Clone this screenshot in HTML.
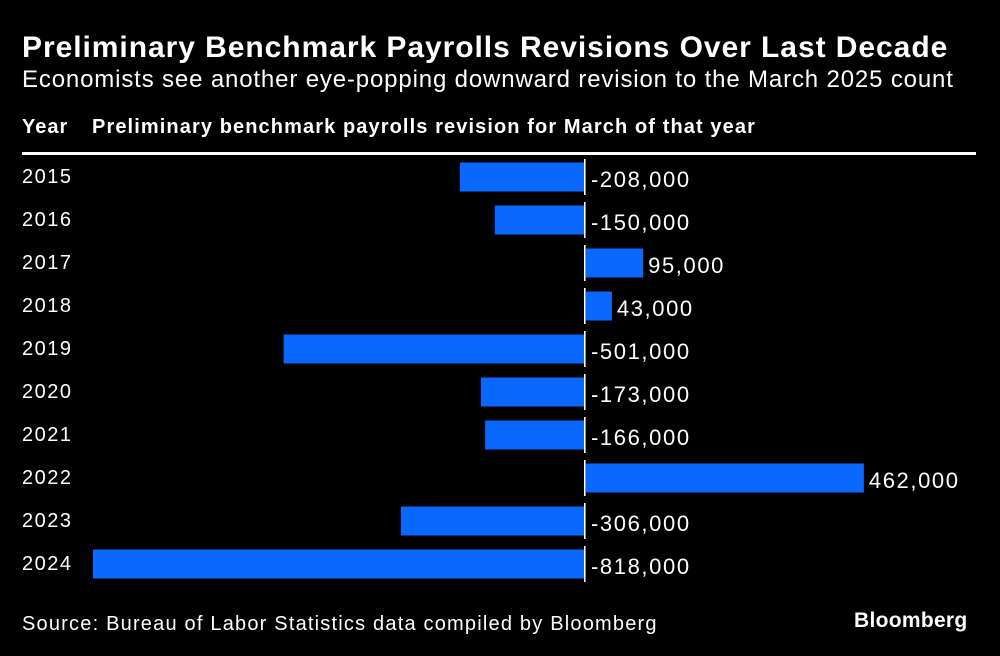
<!DOCTYPE html>
<html><head><meta charset="utf-8"><style>
body{margin:0;background:#000;width:1000px;height:656px;overflow:hidden;font-family:"Liberation Sans",sans-serif;color:#fff;position:relative}
.t{position:absolute;white-space:nowrap}
</style></head><body>
<div class="t" style="left:22px;top:31px;font-size:30px;font-weight:bold;letter-spacing:0.95px">Preliminary Benchmark Payrolls Revisions Over Last Decade</div>
<div class="t" style="left:22px;top:66px;font-size:24px;letter-spacing:0.85px">Economists see another eye-popping downward revision to the March 2025 count</div>
<div class="t" style="left:22px;top:116px;font-size:20px;font-weight:bold;letter-spacing:1px">Year</div>
<div class="t" style="left:92px;top:116px;font-size:20px;font-weight:bold;letter-spacing:1.1px">Preliminary benchmark payrolls revision for March of that year</div>
<div style="position:absolute;left:22px;top:152px;width:954px;height:3px;background:#fff"></div>
<svg id="c" width="1000" height="656" style="position:absolute;left:0;top:0"></svg>
<div class="t" style="left:22px;top:613px;font-size:20px;letter-spacing:1.2px">Source: Bureau of Labor Statistics data compiled by Bloomberg</div>
<div class="t" style="left:854px;top:609px;font-size:21px;font-weight:bold;letter-spacing:0.3px">Bloomberg</div>
<script>
const years=["2015","2016","2017","2018","2019","2020","2021","2022","2023","2024"];
const values=[-208000,-150000,95000,43000,-501000,-173000,-166000,462000,-306000,-818000];
const labels=["-208,000","-150,000","95,000","43,000","-501,000","-173,000","-166,000","462,000","-306,000","-818,000"];
const svg=document.getElementById('c');const NS="http://www.w3.org/2000/svg";
const x0=585,k=492/818000;
function xs(v){return x0+v*k}
function yc(i){return 177+i*43}
years.forEach((y,i)=>{
 const c=yc(i),v=values[i];
 const r=document.createElementNS(NS,'rect');
 
 
 const a=v<0?xs(v):x0+1, b=v<0?x0-1:xs(v)+1;
 r.setAttribute('x',a);r.setAttribute('width',Math.max(0,b-a));
 r.setAttribute('y',c-14.5);r.setAttribute('height',29);r.setAttribute('fill','#0b68ff');
 svg.appendChild(r);
 const l=document.createElementNS(NS,'rect');
 
 
 l.setAttribute('x',x0-1);l.setAttribute('width',1.6);l.setAttribute('y',c-18);l.setAttribute('height',36);l.setAttribute('fill','#fff');
 svg.appendChild(l);
 const t=document.createElementNS(NS,'text');
 
 
 t.setAttribute('x',22);t.setAttribute('y',c+6);t.setAttribute('font-size',20);t.setAttribute('letter-spacing',1.5);t.setAttribute('fill','#fff');t.textContent=y;
 svg.appendChild(t);
 const vt=document.createElementNS(NS,'text');
 
 
 vt.setAttribute('x',v<0?x0+6:xs(v)+6);vt.setAttribute('y',c+10);vt.setAttribute('font-size',22);vt.setAttribute('letter-spacing',1.6);vt.setAttribute('fill','#fff');vt.textContent=labels[i];
 svg.appendChild(vt);
});
</script>
</body></html>
